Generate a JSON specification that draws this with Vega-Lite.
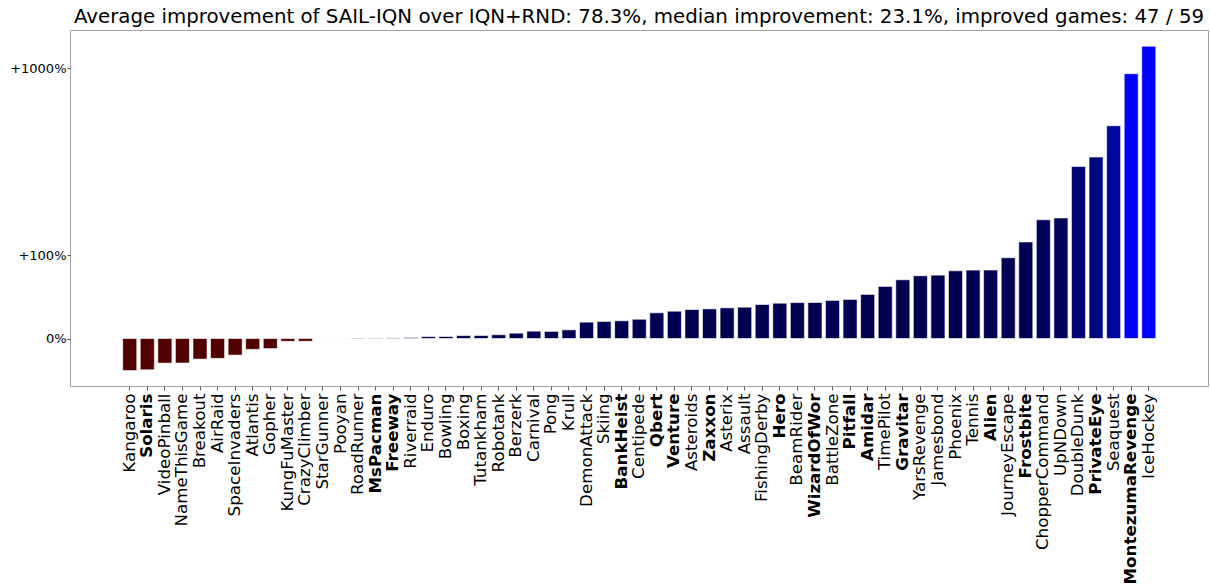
{
  "$schema": "https://vega.github.io/schema/vega-lite/v6.json",
  "autosize": {"type": "none"},
  "padding": {"left": 70, "top": 30, "right": 2, "bottom": 202},
  "width": 1138,
  "height": 356,
  "background": "white",
  "title": {
    "text": "Average improvement of SAIL-IQN over IQN+RND: 78.3%, median improvement: 23.1%, improved games: 47 / 59",
    "font": "DejaVu Sans",
    "fontSize": 19.8,
    "fontWeight": "normal",
    "color": "black",
    "anchor": "middle",
    "frame": "group",
    "offset": 3
  },
  "config": {
    "view": {"stroke": "#a0a0a0", "strokeWidth": 1},
    "axis": {"grid": false, "domain": false, "labelFont": "DejaVu Sans", "labelColor": "black", "tickColor": "#555555", "title": null}
  },
  "data": {
    "values": [
      {"game": "Kangaroo", "improvement": -38.4},
      {"game": "Solaris", "improvement": -37.5},
      {"game": "VideoPinball", "improvement": -29.5},
      {"game": "NameThisGame", "improvement": -29.4},
      {"game": "Breakout", "improvement": -24.7},
      {"game": "AirRaid", "improvement": -23.8},
      {"game": "SpaceInvaders", "improvement": -19.9},
      {"game": "Atlantis", "improvement": -13.0},
      {"game": "Gopher", "improvement": -12.1},
      {"game": "KungFuMaster", "improvement": -3.3},
      {"game": "CrazyClimber", "improvement": -3.3},
      {"game": "StarGunner", "improvement": -0.1},
      {"game": "Pooyan", "improvement": 0.1},
      {"game": "RoadRunner", "improvement": 0.6},
      {"game": "MsPacman", "improvement": 0.6},
      {"game": "Freeway", "improvement": 0.7},
      {"game": "Riverraid", "improvement": 1.2},
      {"game": "Enduro", "improvement": 2.3},
      {"game": "Bowling", "improvement": 2.4},
      {"game": "Boxing", "improvement": 3.5},
      {"game": "Tutankham", "improvement": 3.6},
      {"game": "Robotank", "improvement": 4.5},
      {"game": "Berzerk", "improvement": 6.4},
      {"game": "Carnival", "improvement": 8.8},
      {"game": "Pong", "improvement": 8.5},
      {"game": "Krull", "improvement": 10.4},
      {"game": "DemonAttack", "improvement": 19.6},
      {"game": "Skiing", "improvement": 20.4},
      {"game": "BankHeist", "improvement": 21.2},
      {"game": "Centipede", "improvement": 23.1},
      {"game": "Qbert", "improvement": 30.8},
      {"game": "Venture", "improvement": 32.7},
      {"game": "Asteroids", "improvement": 34.7},
      {"game": "Zaxxon", "improvement": 35.5},
      {"game": "Asterix", "improvement": 36.7},
      {"game": "Assault", "improvement": 37.5},
      {"game": "FishingDerby", "improvement": 40.7},
      {"game": "Hero", "improvement": 42.3},
      {"game": "BeamRider", "improvement": 43.0},
      {"game": "WizardOfWor", "improvement": 43.1},
      {"game": "BattleZone", "improvement": 45.6},
      {"game": "Pitfall", "improvement": 46.8},
      {"game": "Amidar", "improvement": 52.8},
      {"game": "TimePilot", "improvement": 62.4},
      {"game": "Gravitar", "improvement": 70.3},
      {"game": "YarsRevenge", "improvement": 75.1},
      {"game": "Jamesbond", "improvement": 75.9},
      {"game": "Phoenix", "improvement": 81.1},
      {"game": "Tennis", "improvement": 81.9},
      {"game": "Alien", "improvement": 82.0},
      {"game": "JourneyEscape", "improvement": 96.7},
      {"game": "Frostbite", "improvement": 118},
      {"game": "ChopperCommand", "improvement": 155},
      {"game": "UpNDown", "improvement": 159},
      {"game": "DoubleDunk", "improvement": 298},
      {"game": "PrivateEye", "improvement": 338},
      {"game": "Seaquest", "improvement": 493},
      {"game": "MontezumaRevenge", "improvement": 940},
      {"game": "IceHockey", "improvement": 1320}
    ]
  },
  "mark": {"type": "bar", "stroke": "white", "strokeWidth": 0.6},
  "encoding": {
    "x": {
      "field": "game",
      "type": "nominal",
      "sort": null,
      "scale": {"paddingInner": 0.2, "paddingOuter": 0, "range": [52.7, 1085.8]},
      "axis": {
        "labelAngle": -90,
        "labelFontSize": 16.7,
        "labelPadding": 3,
        "labelLimit": 400,
        "tickSize": 4,
        "labelFontWeight": {
          "condition": {
            "test": "indexof(['Solaris','MsPacman','Freeway','BankHeist','Qbert','Venture','Zaxxon','Hero','WizardOfWor','Pitfall','Amidar','Gravitar','Alien','Frostbite','PrivateEye','MontezumaRevenge'], datum.value) >= 0",
            "value": "bold"
          },
          "value": "normal"
        }
      }
    },
    "y": {
      "field": "improvement",
      "type": "quantitative",
      "scale": {
        "type": "linear",
        "zero": false,
        "nice": false,
        "clamp": true,
        "domain": [-56.9, 0, 100, 125, 150, 200, 250, 300, 400, 500, 650, 800, 1000, 1250, 1603],
        "range": [356, 308.5, 225, 206.91, 192.12, 168.8, 150.7, 135.92, 112.6, 94.5, 73.23, 56.39, 38.3, 20.21, 0]
      },
      "axis": {
        "values": [0, 100, 1000],
        "labelExpr": "datum.value == 0 ? '0%' : '+' + datum.value + '%'",
        "labelFontSize": 13,
        "tickSize": 3,
        "labelPadding": 1
      }
    },
    "color": {
      "field": "improvement",
      "type": "quantitative",
      "legend": null,
      "scale": {
        "type": "linear",
        "clamp": true,
        "domain": [-60, -0.0001, 0, 100, 940],
        "range": ["#500000", "#500000", "#000050", "#000050", "#0000ff"]
      }
    }
  }
}
